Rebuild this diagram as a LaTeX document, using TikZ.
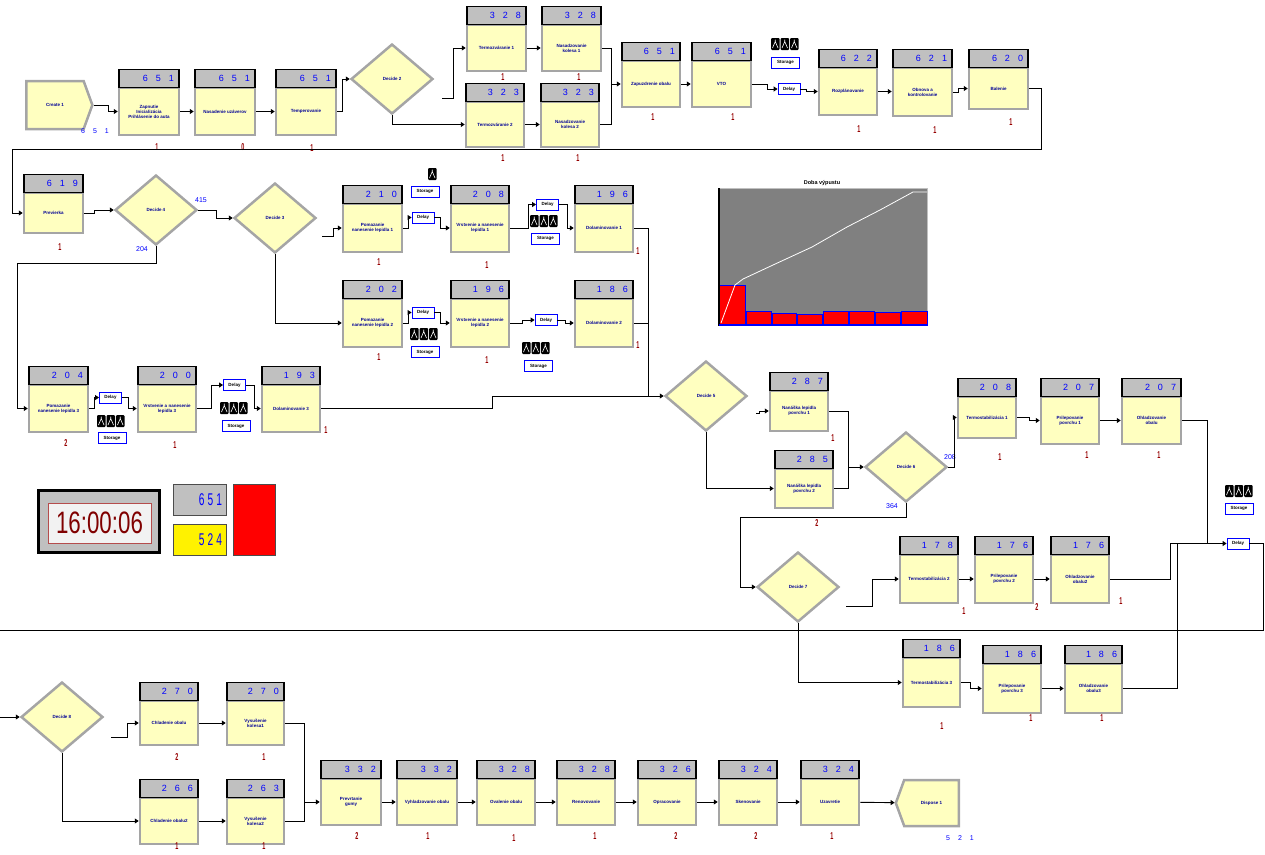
\documentclass[tikz,border=0pt]{standalone}
\usepackage{fontspec}
\setmainfont{Liberation Sans}
\usetikzlibrary{shapes.geometric,shapes.symbols,arrows.meta,calc}
\definecolor{ayel}{RGB}{255,255,192}
\definecolor{agray}{RGB}{165,165,165}
\definecolor{hgray}{RGB}{192,192,192}
\definecolor{lblue}{RGB}{0,0,150}
\definecolor{cblue}{RGB}{0,0,255}
\definecolor{dred}{RGB}{150,0,0}
\definecolor{chartgray}{RGB}{128,128,128}
\newcommand\qn[1]{\scalebox{0.55}[1]{#1}}
\newcommand\cnt[3]{#1\hspace{8pt}#2\hspace{8pt}#3}
\newcommand\amod[9]{%
 \pgfmathsetmacro\amx{#2+#4/2}%
 \pgfmathsetmacro\amy{#3+18+#5/2}%
 \pgfmathsetmacro\amw{#4-10}%
 \pgfmathsetmacro\amt{#3+18}%
 \node[body, minimum width=#4pt, minimum height=#5pt] (#1) at (\amx,\amy) {#7};
 \node[hdr, text width=\amw pt, minimum height=18pt, anchor=south] (#1h) at (\amx,\amt) {#6};
 \node[qred] (#1q) at #8 {\qn{#9}};
}
\newcommand\resi[3]{%
 \foreach \k in {1,...,#3}{%
  \pgfmathsetmacro\rx{#1+(\k-1)*9.5}%
  \fill[black, rounded corners=1pt] (\rx,#2) rectangle ++(8.5,12);
  \draw[white, line width=0.6pt] ({\rx+1.5},{#2+10}) -- ({\rx+4.25},{#2+3.5}) -- ({\rx+7},{#2+10})
     ({\rx+4.25},{#2+3.5}) -- ({\rx+4.25},{#2+1.5});
 }}
\tikzset{
 body/.style={draw=agray, line width=2.5pt, fill=ayel, inner sep=1pt, align=center,
   font=\fontsize{4.5}{5}\selectfont\bfseries, text=lblue},
 hdr/.style={draw=black, line width=1.2pt, fill=hgray, inner xsep=5pt, inner ysep=0pt,
   font=\fontsize{9}{9}\selectfont, text=cblue, align=right},
 qred/.style={text=dred, font=\fontsize{10}{10}\selectfont\bfseries, inner sep=0pt},
 dec/.style={diamond, draw=agray, line width=2.5pt, fill=ayel, minimum width=82pt,
   minimum height=70pt, inner sep=0pt, font=\fontsize{4.5}{5}\selectfont\bfseries, text=lblue},
 term/.style={signal, draw=agray, line width=2.5pt, fill=ayel, signal pointer angle=140,
   inner sep=0pt, font=\fontsize{4.5}{5}\selectfont\bfseries, text=lblue},
 delay/.style={draw=cblue, line width=0.9pt, fill=white, minimum width=22pt, minimum height=11pt,
   inner sep=0pt, font=\fontsize{4.5}{5}\selectfont\bfseries},
 stor/.style={draw=cblue, line width=0.9pt, fill=white, minimum width=28pt, minimum height=11pt,
   inner sep=0pt, font=\fontsize{4.5}{5}\selectfont\bfseries},
 conn/.style={draw=black, line width=0.9pt, -{Triangle[length=4pt,width=5pt]}},
 line/.style={draw=black, line width=0.9pt},
 bcount/.style={text=cblue, font=\fontsize{7}{7}\selectfont, inner sep=0pt},
}
\begin{document}
\begin{tikzpicture}[x=1pt,y=-1pt]
\useasboundingbox (0,0) rectangle (1265,854);
% ---------- row 1
\node[term, signal to=east, minimum width=66pt, minimum height=48pt] (create) at (55,105) {Create 1};
\node[bcount] (createc) at (95,131) {\cnt651};
\amod{m1}{119}{70}{60}{47}{\cnt651}{Zapnutie\\Inicializácia\\Prihlásenie do auta}{(157,147)}{1}
\amod{m2}{195}{70}{60}{47}{\cnt651}{Nasadenie uzáverov}{(243,147)}{0}
\amod{m3}{276}{70}{60}{47}{\cnt651}{Temperovanie}{(312,148)}{1}
\node[dec] (d2) at (392,79) {Decide 2};
\amod{t1}{467}{7}{59}{46}{\cnt328}{Termozváranie 1}{(503,77)}{1}
\amod{n1}{542}{7}{59}{46}{\cnt328}{Nasadzovanie\\kolesa 1}{(579,77)}{1}
\amod{t2}{466}{84}{58}{45}{\cnt323}{Termozváranie 2}{(503,158)}{1}
\amod{n2}{541}{84}{58}{45}{\cnt323}{Nasadzovanie\\kolesa 2}{(578,158)}{1}
\amod{z}{622}{43}{58}{46}{\cnt651}{Zapuzdrenie obalu}{(653,117)}{1}
\amod{vto}{692}{43}{59}{46}{\cnt651}{VTO}{(733,117)}{1}
\resi{771}{38}{3}
\node[stor] (stA) at (785.5,62.5) {Storage};
\node[delay] (dlyA) at (789,89) {Delay};
\amod{rz}{819}{50}{58}{47}{\cnt622}{Rozplánovanie}{(859,129)}{1}
\amod{ob}{893}{50}{59}{48}{\cnt621}{Obnova a\\kontrolovanie}{(935,130)}{1}
\amod{bal}{969}{50}{59}{41}{\cnt620}{Balenie}{(1011,122)}{1}
\coordinate (jz) at (611,84);
\coordinate (jb1) at (1041,149);
\coordinate (jb2) at (12,213);
\draw[conn] (create.east) -- ++(15,0) |- (m1.west);
\draw[conn] (m1) -- (m2);
\draw[conn] (m2) -- (m3);
\draw[conn] (m3.east) -- ++(5,0) |- (d2.west);
\draw[conn] ($(d2.east)+(8,19)$) -- ++(11,0) |- (t1.west);
\draw[conn] (d2.south) |- (t2.west);
\draw[conn] (t1) -- (n1);
\draw[conn] (t2) -- (n2);
\draw[conn] (n1.east) -| (jz) -- (z.west);
\draw[line] (n2.east) -| (jz);
\draw[conn] (z) -- (vto);
\draw[conn] (vto.east) -- ++(15,0) |- (dlyA.west);
\draw[conn] (dlyA.east) -- ++(6,0) |- (rz.west);
\draw[conn] (rz.east) -- (rz.east -| ob.west);
\draw[conn] (ob.east) -- ++(5,0) |- (bal.west);
% ---------- row 2
\amod{prev}{24}{175}{59}{40}{\cnt619}{Previerka}{(60,247)}{1}
\draw[conn] (bal.east) -| (jb1) -| (jb2) -- (prev.west);
\node[dec] (d4) at (156,210) {Decide 4};
\node[bcount] (d4a) at (201,200) {415};
\node[bcount] (d4b) at (142,249) {204};
\node[dec] (d3) at (275,218) {Decide 3};
\amod{p1}{343}{186}{59}{48}{\cnt210}{Pomazanie\\nanesenie lepidla 1}{(379,262)}{1}
\amod{v1}{451}{186}{58}{48}{\cnt208}{Vrstvenie a nanesenie\\lepidla 1}{(487,265)}{1}
\amod{dl1}{575}{186}{58}{48}{\cnt196}{Dolaminovanie 1}{(638,251)}{1}
\amod{p2}{343}{281}{59}{48}{\cnt202}{Pomazanie\\nanesenie lepidla 2}{(379,357)}{1}
\amod{v2}{451}{281}{58}{48}{\cnt196}{Vrstvenie a nanesenie\\lepidla 2}{(487,360)}{1}
\amod{dl2}{575}{281}{58}{48}{\cnt186}{Dolaminovanie 2}{(638,345)}{1}
\resi{428}{168}{1}
\node[stor] (st1) at (425,191.5) {Storage};
\node[delay] (dly1) at (423,217.5) {Delay};
\resi{530}{215}{3}
\node[stor] (st2) at (545.5,238.5) {Storage};
\node[delay] (dly2) at (547.5,204.5) {Delay};
\resi{410}{328}{3}
\node[stor] (st3) at (425,352) {Storage};
\node[delay] (dly3) at (423,312.5) {Delay};
\resi{522}{342}{3}
\node[stor] (st4) at (538.5,366) {Storage};
\node[delay] (dly4) at (546,320) {Delay};
\amod{p3}{29}{367}{59}{47}{\cnt204}{Pomazanie\\nanesenie lepidla 3}{(66,443)}{2}
\amod{v3}{138}{367}{58}{47}{\cnt200}{Vrstvenie a nanesenie\\lepidla 3}{(175,445)}{1}
\amod{dl3}{262}{367}{58}{47}{\cnt193}{Dolaminovanie 3}{(326,430)}{1}
\resi{97}{415}{3}
\node[stor] (st5) at (112,438) {Storage};
\node[delay] (dly5) at (110.5,397.5) {Delay};
\resi{220}{402}{3}
\node[stor] (st6) at (236,426) {Storage};
\node[delay] (dly6) at (234.5,385) {Delay};
\node[dec] (d5) at (706,396) {Decide 5};
\coordinate (jd4) at (216,218);
\coordinate (jd4b) at (17,263);
\coordinate (j5) at (648,396);
\coordinate (j5c) at (492,396);
\draw[conn] (prev.east) -- ++(10,0) |- (d4.west);
\draw[conn] (d4.east) -| (jd4) -- (d3.west);
\draw[conn] (d4.south) |- (jd4b) |- (p3.west);
\draw[conn] ($(d3.east)+(5,18)$) -- ++(11,0) |- (p1.west);
\draw[conn] (d3.south) |- (p2.west);
\draw[conn] (p1.east) -- ++(5,0) |- (dly1.west);
\draw[conn] (dly1.east) -- ++(6,0) |- (v1.west);
\draw[conn] (v1.east) -- ++(18,0) |- (dly2.west);
\draw[conn] (dly2.east) -- ++(8,0) |- (dl1.west);
\draw[conn] (p2.east) -- ++(5,0) |- (dly3.west);
\draw[conn] (dly3.east) -- ++(6,0) |- (v2.west);
\draw[conn] (v2.east) -- ++(12,0) |- (dly4.west);
\draw[conn] (dly4.east) -- ++(8,0) |- (dl2.west);
\draw[conn] (p3.east) -- ++(5,0) |- (dly5.west);
\draw[conn] (dly5.east) -- ++(6,0) |- (v3.west);
\draw[conn] (v3.east) -- ++(14,0) |- (dly6.west);
\draw[conn] (dly6.east) -- ++(8,0) |- (dl3.west);
\draw[conn] (dl1.east) -| (j5) -- (d5.west);
\draw[line] (dl2.east) -| (j5);
\draw[line] (dl3.east) -| (j5c) -- (j5);
% ---------- chart
\fill[chartgray] (719,188) rectangle (927,325);
\draw[hgray, line width=0.8pt] (719,188) rectangle (927,325);
\foreach \a/\b/\h in {719/745/285, 746/771/311, 772/796/313, 797/822/314, 823/848/311, 849/874/311, 875/900/312, 901/927/311}
  {\draw[cblue, fill=red, line width=1pt] (\a,325) rectangle (\b,\h);}
\draw[black, line width=1.2pt] (719,188) -- (719,326);
\draw[cblue, line width=1.2pt] (719,325) -- (927,325);
\draw[white, line width=0.8pt] (721,323) -- (735,285) -- (743,279) -- (773,265) -- (812,247) -- (847,227) -- (880,210) -- (913,192) -- (927,192);
\node[font=\fontsize{5.5}{6}\selectfont\bfseries, inner sep=0pt] (ctitle) at (822,183) {Doba výpustu};
% ---------- right middle
\amod{nk1}{770}{373}{58}{40}{\cnt287}{Nanáška lepidla\\povrchu 1}{(833,438)}{1}
\amod{nk2}{775}{451}{58}{39}{\cnt285}{Nanáška lepidla\\povrchu 2}{(817,523)}{2}
\node[dec] (d6) at (906,467) {Decide 6};
\node[bcount] (d6a) at (950,457) {208};
\node[bcount] (d6b) at (892,506) {364};
\amod{ts1}{958}{379}{58}{41}{\cnt208}{Termostabilizácia 1}{(1000,457)}{1}
\amod{pr1}{1041}{379}{58}{47}{\cnt207}{Prilepovanie\\povrchu 1}{(1087,455)}{1}
\amod{oh1}{1122}{379}{59}{47}{\cnt207}{Ohladzovanie\\obalu}{(1159,455)}{1}
\node[dec] (d7) at (798,587) {Decide 7};
\amod{ts2}{900}{537}{58}{48}{\cnt178}{Termostabilizácia 2}{(964,611)}{1}
\amod{pr2}{975}{537}{58}{48}{\cnt176}{Prilepovanie\\povrchu 2}{(1037,607)}{2}
\amod{oh2}{1051}{537}{58}{48}{\cnt176}{Ohladzovanie\\obalu2}{(1121,601)}{1}
\amod{ts3}{903}{640}{57}{49}{\cnt186}{Termostabilizácia 3}{(942,726)}{1}
\amod{pr3}{983}{646}{58}{49}{\cnt186}{Prilepovanie\\povrchu 3}{(1031,718)}{1}
\amod{oh3}{1065}{646}{57}{49}{\cnt186}{Ohladzovanie\\obalu3}{(1102,718)}{1}
\resi{1225}{485}{3}
\node[stor] (st9) at (1239,508.5) {Storage};
\node[delay] (dly9) at (1238,543.5) {Delay};
\coordinate (j6) at (848,467);
\coordinate (j7) at (740,517);
\coordinate (j9) at (1207,543.5);
\coordinate (j9b) at (1170,543.5);
\coordinate (j9c) at (1177,543.5);
\coordinate (jr) at (1263,630);
\coordinate (jl) at (0,630);
\draw[conn] ($(d5.east)+(8,17)$) -- ++(3,0) |- (nk1.west);
\draw[conn] (d5.south) |- (nk2.west);
\draw[conn] (nk1.east) -| (j6) -- (d6.west);
\draw[line] (nk2.east) -| (j6);
\draw[conn] (d6.east) -- ++(6,0) |- (ts1.west);
\draw[conn] (ts1.east) -- ++(12,0) |- (pr1.west);
\draw[conn] (pr1) -- (oh1);
\draw[conn] (oh1.east) -| (j9) -- (dly9.west);
\draw[line] (oh2.east) -| (j9b) -- (j9);
\draw[line] (oh3.east) -| (j9c);
\draw[conn] (d6.south) |- (j7) |- (d7.west);
\draw[conn] ($(d7.east)+(6,19)$) -- ++(26,0) |- (ts2.west);
\draw[conn] (ts2) -- (pr2);
\draw[conn] (pr2) -- (oh2);
\draw[conn] (d7.south) |- (ts3.west);
\draw[conn] (ts3.east) -- ++(9,0) |- (pr3.west);
\draw[conn] (pr3) -- (oh3);
\draw[line] (dly9.east) -| (jr) -- (jl);
% ---------- clock and variables
\node[draw=black, line width=3pt, fill=hgray, minimum width=121pt, minimum height=62pt] (clock) at (98.5,521) {};
\node[draw=dred!70, fill=black!5, line width=0.8pt, minimum width=103pt, minimum height=40pt, inner sep=0pt,
  text=dred!85!black] (clocktime) at (99.5,523) {\scalebox{0.72}[1]{\fontsize{31}{31}\selectfont 16:00:06}};
\node[draw=black!70, line width=1pt, fill=hgray, minimum height=31pt, text width=45pt, align=right, inner xsep=4pt,
  text=cblue] (var1) at (199.5,499.5) {\scalebox{0.6}[1]{\fontsize{17}{17}\selectfont 6\hspace{5pt}5\hspace{5pt}1}};
\node[draw=black!70, line width=1pt, fill=yellow, minimum height=31pt, text width=45pt, align=right, inner xsep=4pt,
  text=cblue] (var2) at (199.5,539.5) {\scalebox{0.6}[1]{\fontsize{17}{17}\selectfont 5\hspace{5pt}2\hspace{5pt}4}};
\node[draw=black!70, line width=1pt, fill=red, minimum width=42pt, minimum height=71pt] (level) at (254,519.5) {};
% ---------- bottom
\coordinate (jin) at (0,717);
\node[dec] (d8) at (62,717) {Decide 8};
\amod{ch1}{140}{683}{58}{44}{\cnt270}{Chladenie obalu}{(177,757)}{2}
\amod{vy1}{227}{683}{57}{44}{\cnt270}{Vysušenie\\kolesa1}{(264,757)}{1}
\amod{ch2}{140}{780}{58}{46}{\cnt266}{Chladenie obalu2}{(177,846)}{1}
\amod{vy2}{227}{780}{57}{46}{\cnt263}{Vysušenie\\kolesa2}{(264,846)}{1}
\amod{pv}{321}{761}{60}{46}{\cnt332}{Prevrtanie\\gumy}{(357,836)}{2}
\amod{vh}{397}{761}{60}{46}{\cnt332}{Vyhladzovanie obalu}{(428,836)}{1}
\amod{ov}{477}{761}{58}{46}{\cnt328}{Ovalenie obalu}{(514,838)}{1}
\amod{rn}{557}{761}{58}{46}{\cnt328}{Renovovanie}{(595,836)}{1}
\amod{op}{638}{761}{58}{46}{\cnt326}{Opracovanie}{(676,836)}{2}
\amod{sk}{719}{761}{58}{46}{\cnt324}{Skenovanie}{(756,836)}{2}
\amod{uz}{801}{761}{58}{46}{\cnt324}{Uzavretie}{(832,836)}{1}
\node[term, signal to=west, minimum width=63pt, minimum height=46pt] (disp) at (931.5,803) {Dispose 1};
\node[bcount] (dispc) at (960,838) {\cnt521};
\coordinate (jp) at (304,802);
\draw[conn] (jin) -- (d8.west);
\draw[conn] ($(d8.east)+(7,20)$) -- ++(16,0) |- (ch1.west);
\draw[conn] (d8.south) |- (ch2.west);
\draw[conn] (ch1) -- (vy1);
\draw[conn] (ch2) -- (vy2);
\draw[conn] (vy1.east) -| (jp) -- (pv.west);
\draw[line] (vy2.east) -| (jp);
\draw[conn] (pv) -- (vh);
\draw[conn] (vh) -- (ov);
\draw[conn] (ov) -- (rn);
\draw[conn] (rn) -- (op);
\draw[conn] (op) -- (sk);
\draw[conn] (sk) -- (uz);
\draw[conn] (uz) -- (disp);
\end{tikzpicture}
\end{document}
